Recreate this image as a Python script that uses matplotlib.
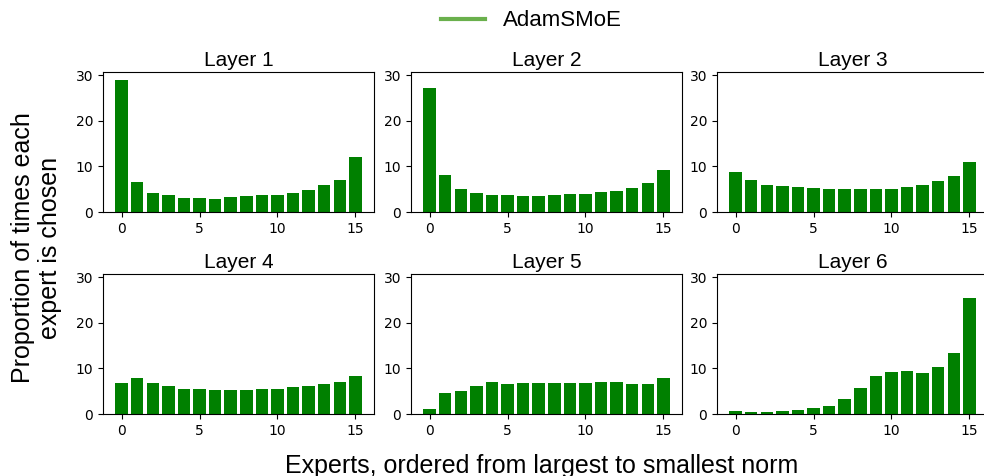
import numpy as np
import matplotlib
matplotlib.use("Agg")
import matplotlib.pyplot as plt
from matplotlib.lines import Line2D

experts = np.arange(16)
layer_names = ["Layer 1", "Layer 2", "Layer 3", "Layer 4", "Layer 5", "Layer 6"]

layer1 = [28.9, 6.6, 4.1, 3.7, 3.1, 3.1, 2.9, 3.3, 3.5, 3.7, 3.7, 4.2, 4.8, 5.9, 7.0, 12.1]
layer2 = [27.3, 8.1, 5.0, 4.1, 3.7, 3.7, 3.5, 3.5, 3.7, 3.9, 3.9, 4.3, 4.6, 5.2, 6.3, 9.2]
layer3 = [8.8, 7.0, 5.9, 5.7, 5.45, 5.2, 5.0, 5.0, 5.0, 5.0, 5.0, 5.45, 5.9, 6.8, 7.9, 11.0]
layer4 = [6.9, 8.0, 6.9, 6.2, 5.5, 5.5, 5.3, 5.3, 5.3, 5.5, 5.5, 6.0, 6.2, 6.65, 7.1, 8.4]
layer5 = [1.1, 4.65, 5.1, 6.2, 7.1, 6.65, 6.9, 6.9, 6.9, 6.9, 6.9, 7.1, 7.1, 6.65, 6.65, 8.0]
layer6 = [0.66, 0.44, 0.44, 0.66, 0.9, 1.33, 1.77, 3.3, 5.75, 8.4, 9.3, 9.5, 9.1, 10.2, 13.3, 25.5]
layers = [layer1, layer2, layer3, layer4, layer5, layer6]

fig = plt.figure(figsize=(9.84, 4.76), dpi=100)

lefts = [103 / 984, 411 / 984, 717 / 984]
width = 271 / 984
bottoms = [1 - 212 / 476, 1 - 414 / 476]
height = 140 / 476

for i, (name, vals) in enumerate(zip(layer_names, layers)):
    ax = fig.add_axes([lefts[i % 3], bottoms[i // 3], width, height])
    ax.bar(experts, vals, color="green", width=0.8)
    ax.set_ylim(0, 30.7)
    ax.set_yticks([0, 10, 20, 30])
    ax.set_xticks([0, 5, 10, 15])
    ax.tick_params(labelsize=10)
    ax.set_title(name, fontsize=15, family="Liberation Sans", pad=4)

fig.text(0.037, 0.48, "Proportion of times each\nexpert is chosen", rotation=90,
         ha="center", va="center", fontsize=18, family="Liberation Sans")
fig.text(0.55, 0.022, "Experts, ordered from largest to smallest norm",
         ha="center", va="center", fontsize=18, family="Liberation Sans")

handle = Line2D([], [], color="#6ab04c", linewidth=3)
fig.legend([handle], ["AdamSMoE"], loc="upper center", bbox_to_anchor=(0.54, 1.02),
           frameon=False, prop={"family": "Liberation Sans", "size": 16})

fig.savefig("out.png", dpi=100)
